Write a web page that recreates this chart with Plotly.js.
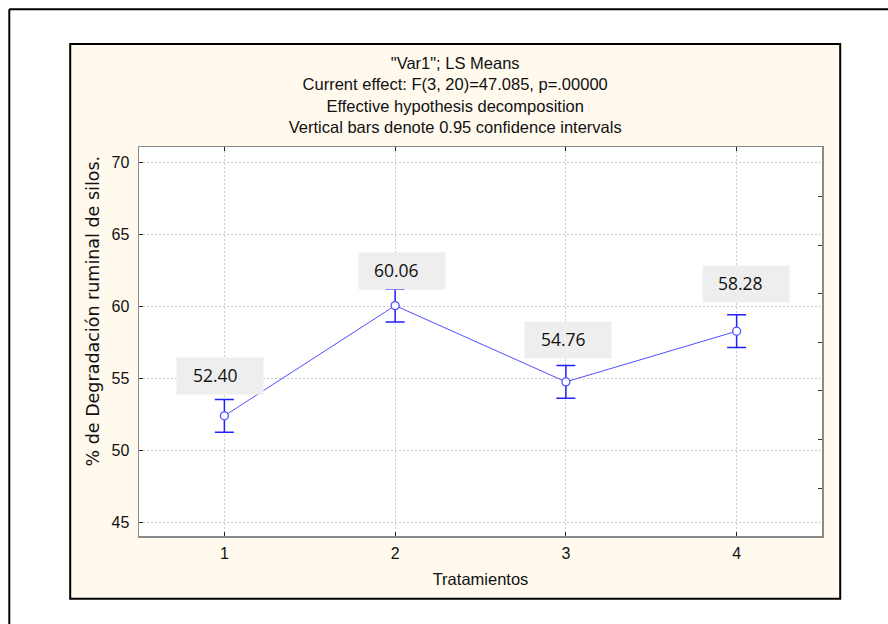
<!DOCTYPE html>
<html>
<head>
<meta charset="utf-8">
<script src="https://cdn.plot.ly/plotly-3.0.1.min.js"></script>
<style>
  html, body { margin: 0; padding: 0; background: #ffffff; }
  #chart { width: 888px; height: 624px; }
</style>
</head>
<body>
<div id="chart"></div>
<script>
// Treatment levels on the x axis
const categories = [1, 2, 3, 4];
const tickLabels = ['1', '2', '3', '4'];

// LS means of ruminal degradation (%) and half-widths of the 0.95 confidence intervals
const lsMeans = [52.40, 60.06, 54.76, 58.28];
const ciHalfWidth = [1.14, 1.14, 1.14, 1.14];

// Left axis ticks
const yTicks = [45, 50, 55, 60, 65, 70];

// Header text
const titleLines = [
  '"Var1"; LS Means',
  'Current effect: F(3, 20)=47.085, p=.00000',
  'Effective hypothesis decomposition',
  'Vertical bars denote 0.95 confidence intervals'
];
const xTitle = 'Tratamientos';
const yTitle = '% de Degradación ruminal de silos.';

// ---- styling / placement ----
const W = 888, H = 624;
const M = { l: 139, r: 66, t: 147, b: 88 };
const plotW = W - M.l - M.r, plotH = H - M.t - M.b;
const px = v => (v - M.l) / plotW;          // page pixel -> paper x
const py = v => (H - M.b - v) / plotH;      // page pixel -> paper y

// value-box offsets (pixels) relative to each mean
const boxShiftX = [-4, 7, 2.5, 9];
const boxShiftY = [40, 35, 42, 47];
const textShiftX = [-9, 1, -2.5, 3.5];

const blueLine = '#5050ff';
const blueBar = '#2020ff';
const sans = 'Liberation Sans, Arial, sans-serif';
const gridStyle = { showgrid: true, gridcolor: '#cdcdcd', griddash: '2px,2px', gridwidth: 1 };

const meansTrace = {
  type: 'scatter',
  mode: 'lines+markers',
  x: categories,
  y: lsMeans,
  line: { color: blueLine, width: 1 },
  marker: { symbol: 'circle', size: 8, color: '#ffffff',
            line: { color: blueLine, width: 1.3 } },
  error_y: { type: 'data', array: ciHalfWidth, visible: true,
             color: blueBar, thickness: 1.5, width: 9.5 },
  hoverinfo: 'x+y',
  showlegend: false
};

// carries the right-hand tick axis
const rightAxisTrace = {
  type: 'scatter', x: [], y: [], yaxis: 'y2',
  hoverinfo: 'skip', showlegend: false
};

const annotations = [];
lsMeans.forEach((v, i) => {
  annotations.push({
    x: categories[i], y: v, xref: 'x', yref: 'y',
    text: ' ', showarrow: false,
    width: 86, height: 36, borderpad: 0, bgcolor: '#eeeeee',
    xanchor: 'center', yanchor: 'middle',
    xshift: boxShiftX[i], yshift: boxShiftY[i]
  });
  annotations.push({
    x: categories[i], y: v, xref: 'x', yref: 'y',
    text: v.toFixed(2), showarrow: false,
    font: { family: 'Open Sans, sans-serif', size: 17.5, color: '#111111' },
    xanchor: 'center', yanchor: 'middle',
    xshift: textShiftX[i], yshift: boxShiftY[i] + 1
  });
});
annotations.push({
  x: px(92.5), y: py(311), xref: 'paper', yref: 'paper',
  text: yTitle, textangle: -90, showarrow: false,
  font: { family: 'DejaVu Sans, sans-serif', size: 17.5, color: '#111111' },
  xanchor: 'center', yanchor: 'middle'
});

const shapes = [
  // outer frame (left and top edges)
  { type: 'line', xref: 'paper', yref: 'paper', layer: 'below',
    x0: px(9.3), x1: px(9.3), y0: py(9.3), y1: py(640),
    line: { color: '#000000', width: 2 } },
  { type: 'line', xref: 'paper', yref: 'paper', layer: 'below',
    x0: px(9.3), x1: px(900), y0: py(9.3), y1: py(9.3),
    line: { color: '#000000', width: 2 } },
  // cream chart panel
  { type: 'rect', xref: 'paper', yref: 'paper', layer: 'below',
    x0: px(70.2), x1: px(840.2), y0: py(598.8), y1: py(44),
    fillcolor: '#fff9ee', line: { color: '#000000', width: 2 } },
  // white plotting area
  { type: 'rect', xref: 'paper', yref: 'paper', layer: 'below',
    x0: 0, x1: 1, y0: 0, y1: 1,
    fillcolor: '#ffffff', line: { width: 0 } }
];

const layout = {
  width: W, height: H,
  margin: M,
  paper_bgcolor: '#ffffff',
  plot_bgcolor: '#ffffff',
  showlegend: false,
  title: {
    text: titleLines.join('<br>'),
    font: { family: sans, size: 16.5, color: '#111111' },
    x: px(455.2), xref: 'paper', xanchor: 'center',
    y: 1 - 69 / H, yref: 'container', yanchor: 'top'
  },
  xaxis: Object.assign({
    range: [0.5, 4.5],
    tickmode: 'array', tickvals: categories, ticktext: tickLabels,
    ticks: 'inside', ticklen: 4, tickwidth: 1, tickcolor: '#222222',
    showline: true, linecolor: '#8a8a8a', linewidth: 1.5, mirror: 'ticks',
    zeroline: false,
    ticklabelstandoff: 2,
    tickfont: { family: sans, size: 16, color: '#111111' },
    title: { text: xTitle, font: { family: sans, size: 16.5, color: '#111111' }, standoff: 12 },
    automargin: false
  }, gridStyle),
  yaxis: Object.assign({
    range: [44.05, 71.08],
    tickmode: 'array', tickvals: yTicks,
    ticks: 'inside', ticklen: 4, tickwidth: 1, tickcolor: '#333333',
    showline: true, linecolor: '#8a8a8a', linewidth: 1.5, mirror: true,
    zeroline: false,
    ticklabelstandoff: 5,
    tickfont: { family: sans, size: 16, color: '#111111' },
    automargin: false
  }, gridStyle),
  yaxis2: {
    overlaying: 'y', side: 'right', anchor: 'x',
    range: [44.05, 71.08],
    tickmode: 'linear', tick0: 47.38, dtick: 3.378,
    ticks: 'inside', ticklen: 4, tickwidth: 1, tickcolor: '#333333',
    showticklabels: false, showgrid: false, zeroline: false, showline: false,
    automargin: false
  },
  shapes: shapes,
  annotations: annotations
};

Plotly.newPlot('chart', [meansTrace, rightAxisTrace], layout, { displayModeBar: false, staticPlot: true });
</script>
</body>
</html>
